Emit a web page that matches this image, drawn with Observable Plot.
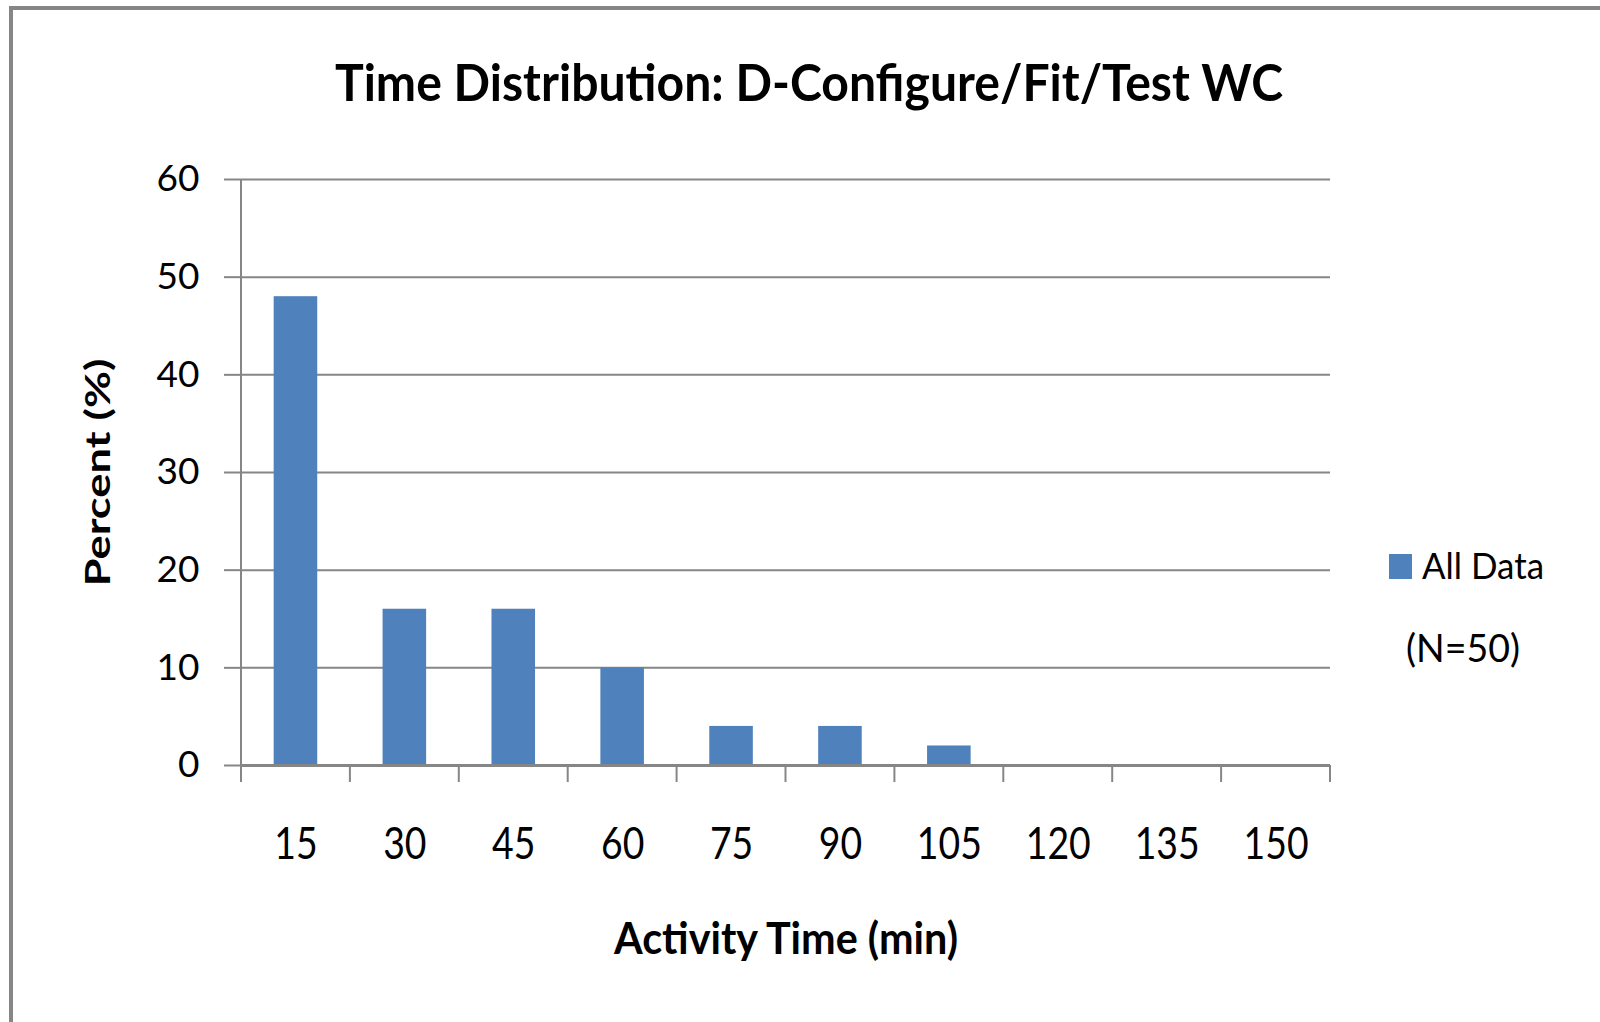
<!DOCTYPE html>
<html>
<head>
<meta charset="utf-8">
<script src="https://cdn.jsdelivr.net/npm/d3@7"></script>
<script src="https://cdn.jsdelivr.net/npm/@observablehq/plot@0.6"></script>
<style>
  html, body { margin: 0; padding: 0; background: #fff; overflow: hidden; width: 1600px; height: 1022px; }
  #page { position: relative; width: 1600px; height: 1022px; font-family: Lato, "Open Sans", sans-serif; }
  #border { position: absolute; left: 9px; top: 6px; width: 1700px; height: 1100px;
            border-top: 4px solid #868686; border-left: 4px solid #868686; pointer-events: none; }
  #header { height: 140px; }
  #legend { position: absolute; left: 1360px; top: 520px; }
  svg { display: block; }
</style>
</head>
<body>
<div id="page">
  <div id="header"></div>
  <div id="chart"></div>
  <div id="legend"></div>
  <div id="border"></div>
</div>
<script>
// ---- data ----
const categories = ["15", "30", "45", "60", "75", "90", "105", "120", "135", "150"];
const percents = [48, 16, 16, 10, 4, 4, 2, 0, 0, 0];
const yTicks = [0, 10, 20, 30, 40, 50, 60];
const titleText = "Time Distribution: D-Configure/Fit/Test WC";
const xLabel = "Activity Time (min)";
const yLabel = "Percent (%)";
const seriesName = "All Data";
const noteText = "(N=50)";

const data = categories.map((c, i) => ({cat: c, pct: percents[i]}));

const BAR = "#4F81BD";
const GRID = "#868686";

// ---- title ----
const header = d3.select("#header").append("svg").attr("width", 1600).attr("height", 140);
header.append("text")
  .attr("x", 809).attr("y", 101)
  .attr("text-anchor", "middle")
  .attr("font-family", "Lato, sans-serif")
  .attr("font-weight", "bold")
  .attr("font-size", 51)
  .attr("textLength", 948)
  .attr("lengthAdjust", "spacingAndGlyphs")
  .text(titleText);

// boundary ticks between categories + y axis line
function categoryTicks(index, scales) {
  const x = scales.x, y = scales.y;
  const bw = x.bandwidth();
  const step = x.step ? x.step() : bw / 0.4;
  const y0 = y(0);
  const edges = categories.map(c => x(c) - (step - bw) / 2);
  edges.push(edges[edges.length - 1] + step);
  const g = d3.create("svg:g").attr("stroke", GRID);
  g.selectAll("line.t").data(edges).join("line").attr("class", "t")
    .attr("x1", d => d).attr("x2", d => d)
    .attr("y1", y0).attr("y2", y0 + 17).attr("stroke-width", 2);
  g.append("line")
    .attr("x1", edges[0]).attr("x2", edges[0])
    .attr("y1", y(d3.max(yTicks))).attr("y2", y0).attr("stroke-width", 2);
  return g.node();
}

const plot = Plot.plot({
  width: 1600,
  height: 882,
  marginLeft: 241,
  marginRight: 270,
  marginTop: 39,
  marginBottom: 257,
  style: {fontFamily: "Lato, sans-serif", color: "black", background: "white", overflow: "visible"},
  x: {domain: categories, paddingInner: 0.6, paddingOuter: 0.3, round: false, label: null},
  y: {domain: [0, 60], label: null},
  marks: [
    Plot.gridY(yTicks, {stroke: GRID, strokeOpacity: 1, strokeWidth: 2}),
    Plot.axisY(yTicks, {tickSize: 17, tickPadding: 25, fontSize: 37, stroke: GRID, strokeWidth: 2, label: null}),
    Plot.barY(data, {x: "cat", y: "pct", fill: BAR}),
    Plot.ruleY([0], {stroke: GRID, strokeWidth: 3}),
    categoryTicks,
    Plot.axisX({tickSize: 0, tickPadding: 62, fontSize: 45, label: null}),
    Plot.text([xLabel], {frameAnchor: "bottom", dy: 188, fontSize: 43, fontWeight: "bold", fill: "black"}),
    Plot.text([yLabel], {frameAnchor: "left", textAnchor: "middle", dx: -142, rotate: -90, fontSize: 33.5, fontWeight: "bold", fill: "black"})
  ]
});
document.getElementById("chart").appendChild(plot);

// narrow / widen the glyphs to match the look of the original
d3.select(plot).selectAll("text").each(function () {
  const t = this.textContent;
  if (t === xLabel) { this.setAttribute("textLength", 344); this.setAttribute("lengthAdjust", "spacingAndGlyphs"); }
  else if (t === yLabel) { this.setAttribute("textLength", 228); this.setAttribute("lengthAdjust", "spacingAndGlyphs"); }
});
d3.select(plot).selectAll("[aria-label='x-axis tick label'] text").each(function () {
  const w = this.getComputedTextLength();
  this.setAttribute("textLength", w * 0.83);
  this.setAttribute("lengthAdjust", "spacingAndGlyphs");
});

// ---- legend ----
const lg = d3.select("#legend").append("svg").attr("width", 220).attr("height", 160);
lg.append("rect").attr("x", 29).attr("y", 34).attr("width", 23).attr("height", 25).attr("fill", BAR);
lg.append("text").attr("x", 62).attr("y", 59)
  .attr("font-family", "Lato, sans-serif").attr("font-size", 37.5)
  .attr("textLength", 122).attr("lengthAdjust", "spacingAndGlyphs")
  .text(seriesName);
lg.append("text").attr("x", 46).attr("y", 142)
  .attr("font-family", "Lato, sans-serif").attr("font-size", 39)
  .attr("textLength", 114).attr("lengthAdjust", "spacingAndGlyphs")
  .text(noteText);
</script>
</body>
</html>
